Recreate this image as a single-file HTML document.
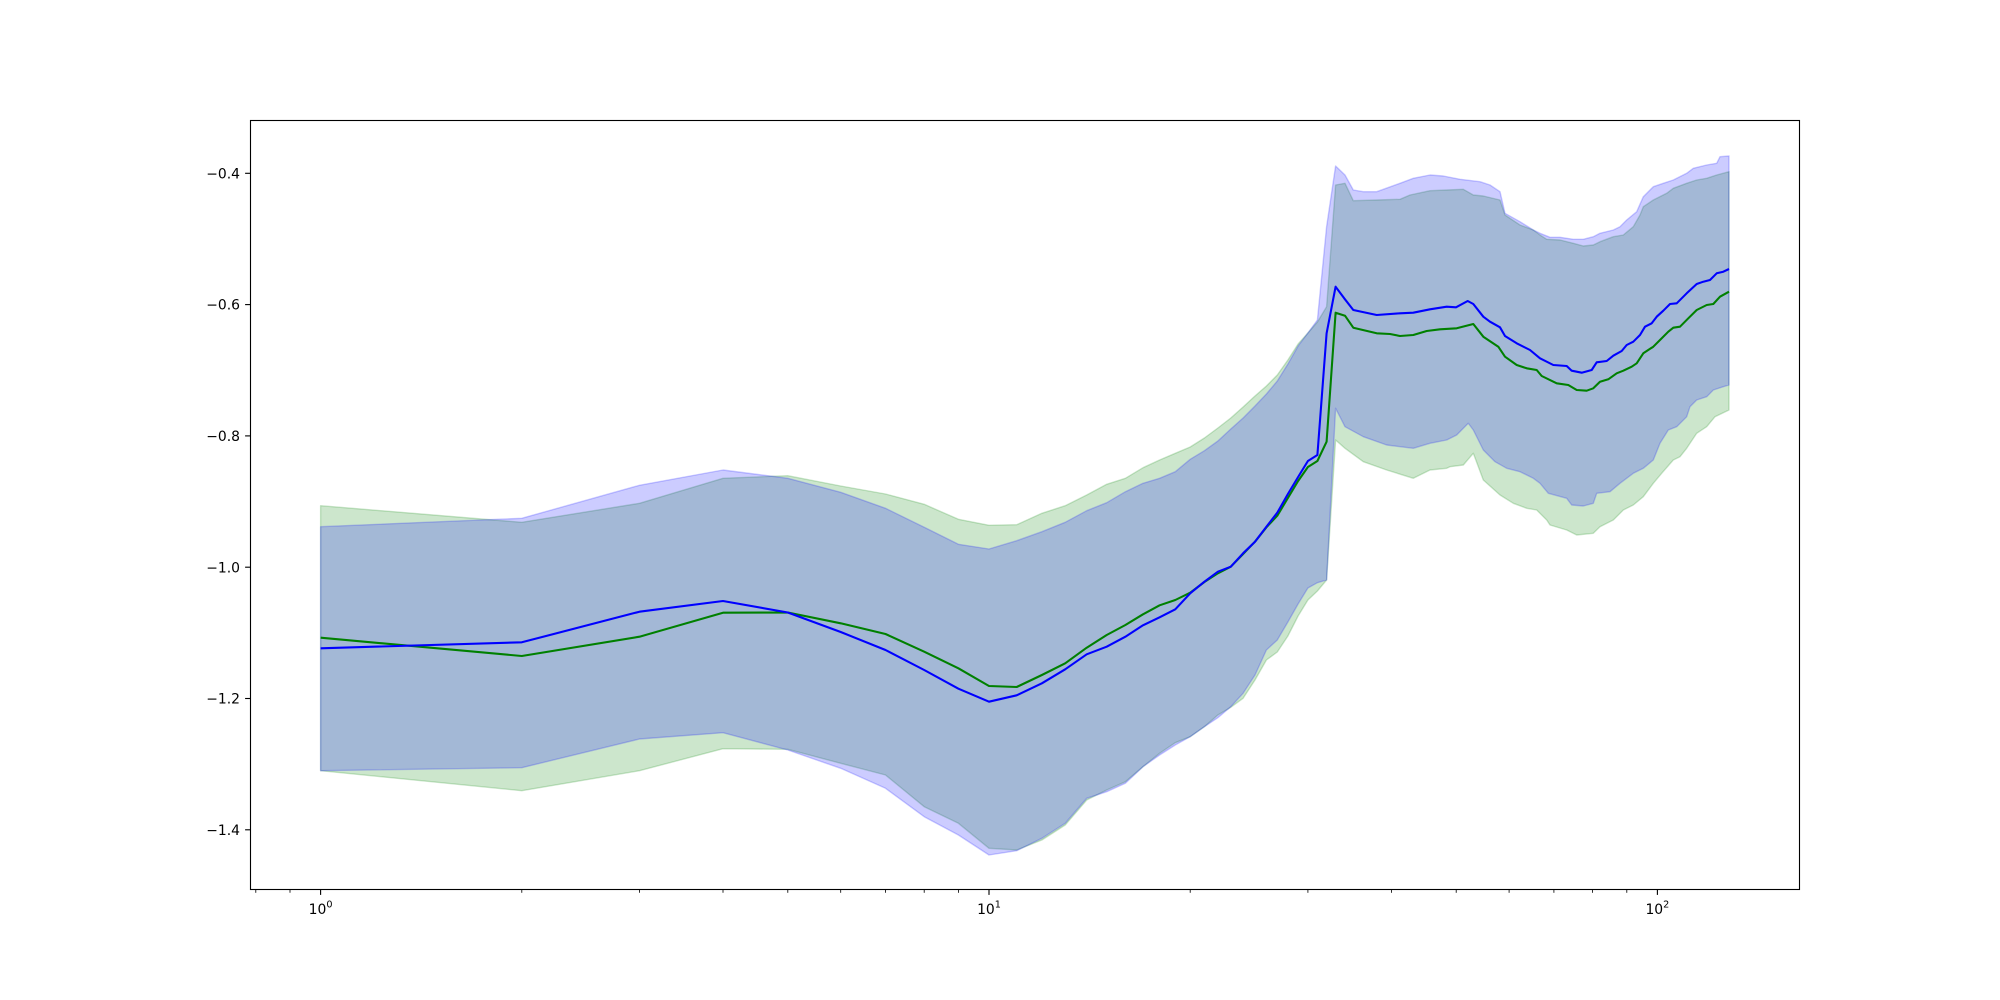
<!DOCTYPE html>
<html>
<head>
<meta charset="utf-8">
<style>
html,body{margin:0;padding:0;background:#fff;}
svg{display:block;}
text{font-family:"DejaVu Sans","Liberation Sans",sans-serif;fill:#000;}
</style>
</head>
<body>
<svg width="2000" height="1000" viewBox="0 0 2000 1000" xmlns="http://www.w3.org/2000/svg">
<rect x="0" y="0" width="2000" height="1000" fill="#fff"/>
<defs><clipPath id="ax"><rect x="250" y="120" width="1550" height="770"/></clipPath></defs>
<g clip-path="url(#ax)">
<!-- green band -->
<polygon fill="#008000" fill-opacity="0.2" stroke="#008000" stroke-opacity="0.2" stroke-width="1.39" stroke-linejoin="round" points="
320.6,505.7 521.8,522.3 639.5,503.3 723.0,478.3 787.8,475.7 840.7,486 885.5,494 924.2,504.3 958.4,519.3 989.0,525.3 1016.7,524.7 1041.9,513.3 1065.2,505.7 1086.7,495 1106.7,484.3 1125.4,478.3 1143.0,467.7 1159.6,460 1175.3,453.3 1190.2,447 1204.4,438 1217.9,428 1230.8,418 1243.1,407 1255.0,396 1266.4,386 1277.3,375 1287.9,360 1298.1,344 1307.9,333 1317.4,322 1326.6,306.7
1335.6,185 1345,183.3 1353.3,200.7 1376.7,200 1400,199.3 1410,195 1430,190.7 1446.7,190 1463.3,189.3 1473.3,195 1483.3,196 1500,200 1505,215 1520,225 1533.3,230 1540,235 1546.7,239.3 1560,240 1573.3,243.3 1583.3,246 1593.3,245 1600,241.7 1613.3,236.7 1623.3,235 1633.3,226.7 1640,215 1643.3,206.7 1653.3,200 1666.7,193.3 1673.3,188.3 1686.7,183.3 1696.7,180 1706.7,178.3 1716.7,175 1729,171.7
1729,410 1715,416.7 1706.7,426.7 1696.7,433.3 1686.7,448.3 1680,456.7 1673.3,460 1661.7,473.3 1653.3,483.3 1643.3,496.7 1633.3,505 1623.3,510 1613.3,520 1600,526.7 1593.3,533.3 1576.7,535 1566.7,530 1550,525 1546.7,520 1536.7,510 1526.7,508.3 1513.3,503.3 1500,495 1483.3,480 1473.3,453.3 1463.3,465 1450,466.7 1446.7,468.3 1430,470 1413.3,478.3 1386.7,470 1363.3,461.7 1345,448.3 1335.6,440
1326.6,580 1317.4,591 1307.9,600 1298.1,616 1287.9,636 1277.3,652 1266.4,660 1255.0,680 1243.1,698.3 1230.8,707.3 1217.9,715 1204.4,726.7 1190.2,736.7 1175.3,742.7 1159.6,753.3 1143.0,766.7 1125.4,781.7 1106.7,790 1086.7,800 1065.2,825 1041.9,840 1016.7,850 989.0,848.3 958.4,823.3 924.2,806.7 885.5,775 840.7,763.3 787.8,749.3 723.0,748.7 639.5,770.7 521.8,790.7 320.6,770.7"/>
<!-- blue band -->
<polygon fill="#0000ff" fill-opacity="0.2" stroke="#0000ff" stroke-opacity="0.2" stroke-width="1.39" stroke-linejoin="round" points="
320.6,526.7 521.8,518.3 639.5,485.3 723.0,470 787.8,478.3 840.7,492.3 885.5,508.3 924.2,527.3 958.4,544.3 989.0,549 1016.7,540.7 1041.9,531.7 1065.2,522.3 1086.7,510.7 1106.7,502.7 1125.4,491.7 1143.0,483.3 1159.6,478.3 1175.3,471.7 1190.2,459.3 1204.4,450.7 1217.9,441 1230.8,429 1243.1,418 1255.0,406 1266.4,394 1277.3,381 1287.9,364 1298.1,346 1307.9,333 1317.4,320 1326.6,226.7
1335.6,166 1345,175 1353.3,190 1363.3,191.7 1376.7,191.7 1400,183.3 1413.3,178.3 1430,175 1443.3,176 1460,179.3 1480,181.7 1490,185 1500,191.7 1505,213.3 1520,221.7 1533.3,230 1540,233.3 1550,237.3 1560,237.3 1573.3,239.3 1583.3,239.3 1593.3,236.7 1600,233.3 1613.3,230 1620,226.7 1626.7,220 1636.7,211.7 1643.3,196.7 1653.3,186.7 1663.3,183.3 1673.3,180 1686.7,173.3 1693.3,168.3 1706.7,165 1716.7,163.3 1720,156.7 1729,156
1729,385 1723.3,386.7 1713.3,390 1706.7,396.7 1696.7,400 1690,406.7 1686.7,416.7 1676.7,426.7 1668.3,430 1660,443.3 1653.3,460 1643.3,468.3 1633.3,473.3 1620,483.3 1610,491.7 1596.7,493.3 1593.3,503.3 1583.3,506 1571.7,505 1566.7,498.3 1548.3,493.3 1540,483.3 1533.3,478.3 1520,471.7 1506.7,468.3 1495,461.7 1483.3,450 1473.3,430 1468.3,423.3 1456.7,435 1446.7,440 1430,443.3 1413.3,448.3 1386.7,445 1363.3,436.7 1345,426.7 1335.6,408.3
1326.6,580 1317.4,582.7 1307.9,588 1298.1,604 1287.9,622 1277.3,640 1266.4,650 1255.0,675 1243.1,693.3 1230.8,706.7 1217.9,717.7 1204.4,726.7 1190.2,736.7 1175.3,745 1159.6,755 1143.0,766.7 1125.4,783.3 1106.7,791.7 1086.7,798.3 1065.2,823.3 1041.9,838.3 1016.7,850.7 989.0,855 958.4,835 924.2,816.7 885.5,788.3 840.7,768.3 787.8,750 723.0,732.7 639.5,739 521.8,767.7 320.6,770.7"/>
<!-- green line -->
<polyline fill="none" stroke="#008000" stroke-width="2.08" stroke-linejoin="round" points="320.6,637.7 521.8,656 639.5,636.7 723.0,612.7 787.8,612.5 840.7,623.3 885.5,634 924.2,651.7 958.4,668.3 989.0,686 1016.7,687 1041.9,675 1065.2,663.3 1086.7,647.7 1106.7,635 1125.4,625 1143.0,614.3 1159.6,605.3 1175.3,600 1190.2,592.7 1204.4,582 1217.9,573.3 1230.8,566.7 1243.1,554 1255.0,541.7 1266.4,527.3 1277.3,515.7 1287.9,498 1298.1,481 1307.9,467 1317.4,461 1326.6,441.7 1335.6,312.7 1345,315.7 1353.3,327.7 1376.7,333.3 1390,334 1400,336 1413.3,335 1426.7,331 1440,329.3 1456.7,328.3 1473.3,324 1483.3,336.7 1498.3,346.7 1505,356.7 1516.7,365 1526.7,368.3 1536.7,370 1541.7,376 1556.7,383.3 1568.3,385 1576.7,390 1586.7,390.7 1593.3,388.3 1600,381.7 1608.3,379.3 1616.7,373.3 1623.3,370.7 1631.7,366.7 1636.7,363.3 1643.3,353.3 1653.3,346.7 1660,340 1668.3,331.7 1673.3,327.7 1680,326.7 1688.3,318.3 1696.7,310 1706.7,305 1713.3,304 1720,296.7 1729,291.7"/>
<!-- blue line -->
<polyline fill="none" stroke="#0000ff" stroke-width="2.08" stroke-linejoin="round" points="320.6,648.3 521.8,642.3 639.5,611.7 723.0,601 787.8,612.5 840.7,632 885.5,650 924.2,670 958.4,688.7 989.0,701.7 1016.7,695.3 1041.9,683.3 1065.2,669.3 1086.7,654.3 1106.7,646.7 1125.4,636.7 1143.0,625.3 1159.6,617.3 1175.3,609.3 1190.2,593.3 1204.4,581.7 1217.9,571.7 1230.8,566.7 1243.1,553.3 1255.0,541.7 1266.4,526.7 1277.3,512.7 1287.9,494 1298.1,477 1307.9,461 1317.4,455 1326.6,333.3 1335.6,286.7 1344.2,298.3 1353.3,310 1376.7,315 1400,313.3 1413.3,312.7 1430,309.3 1446.7,306.7 1456,307.3 1467.7,301 1473.3,304 1483.3,316.7 1490,321.7 1500,327.3 1505,336 1516.7,343.3 1530,350 1540,358.3 1553.3,365 1566.7,366 1571.7,370.7 1581.7,372.7 1591.7,370 1596.7,362.3 1606.7,361 1613.3,355.7 1621.7,351 1626.7,345 1633.3,341.7 1640,335 1645,326.7 1651.7,323.3 1656.7,316.7 1663.3,310.7 1670,304 1676.7,303.3 1686.7,293.3 1696.7,284 1703.3,281.7 1710,280 1716.7,273.3 1723.3,271.7 1729,269"/>
</g>
<!-- axes frame -->
<rect x="250.5" y="120.5" width="1549" height="769" fill="none" stroke="#000" stroke-width="1.11"/>
<!-- y ticks -->
<g stroke="#000" stroke-width="1.11">
<line x1="245.1" y1="173.3" x2="250" y2="173.3"/>
<line x1="245.1" y1="304.6" x2="250" y2="304.6"/>
<line x1="245.1" y1="435.9" x2="250" y2="435.9"/>
<line x1="245.1" y1="567.2" x2="250" y2="567.2"/>
<line x1="245.1" y1="698.5" x2="250" y2="698.5"/>
<line x1="245.1" y1="829.8" x2="250" y2="829.8"/>
</g>
<g font-size="13.9" text-anchor="end">
<text x="240" y="178.4">−0.4</text>
<text x="240" y="309.7">−0.6</text>
<text x="240" y="441">−0.8</text>
<text x="240" y="572.3">−1.0</text>
<text x="240" y="703.6">−1.2</text>
<text x="240" y="834.9">−1.4</text>
</g>
<!-- x major ticks -->
<g stroke="#000" stroke-width="1.11">
<line x1="320.6" y1="890" x2="320.6" y2="894.9"/>
<line x1="989.0" y1="890" x2="989.0" y2="894.9"/>
<line x1="1657.4" y1="890" x2="1657.4" y2="894.9"/>
</g>
<!-- x minor ticks -->
<g stroke="#000" stroke-width="0.83">
<line x1="255.8" y1="890" x2="255.8" y2="892.8"/>
<line x1="290.0" y1="890" x2="290.0" y2="892.8"/>
<line x1="521.8" y1="890" x2="521.8" y2="892.8"/>
<line x1="639.5" y1="890" x2="639.5" y2="892.8"/>
<line x1="723.0" y1="890" x2="723.0" y2="892.8"/>
<line x1="787.8" y1="890" x2="787.8" y2="892.8"/>
<line x1="840.7" y1="890" x2="840.7" y2="892.8"/>
<line x1="885.5" y1="890" x2="885.5" y2="892.8"/>
<line x1="924.2" y1="890" x2="924.2" y2="892.8"/>
<line x1="958.4" y1="890" x2="958.4" y2="892.8"/>
<line x1="1190.2" y1="890" x2="1190.2" y2="892.8"/>
<line x1="1307.9" y1="890" x2="1307.9" y2="892.8"/>
<line x1="1391.4" y1="890" x2="1391.4" y2="892.8"/>
<line x1="1456.2" y1="890" x2="1456.2" y2="892.8"/>
<line x1="1509.1" y1="890" x2="1509.1" y2="892.8"/>
<line x1="1553.9" y1="890" x2="1553.9" y2="892.8"/>
<line x1="1592.6" y1="890" x2="1592.6" y2="892.8"/>
<line x1="1626.8" y1="890" x2="1626.8" y2="892.8"/>
</g>
<g font-size="13.9" text-anchor="middle">
<text x="320.6" y="914">10<tspan font-size="9.7" dy="-6.3">0</tspan></text>
<text x="989.0" y="914">10<tspan font-size="9.7" dy="-6.3">1</tspan></text>
<text x="1657.4" y="914">10<tspan font-size="9.7" dy="-6.3">2</tspan></text>
</g>
</svg>
</body>
</html>
